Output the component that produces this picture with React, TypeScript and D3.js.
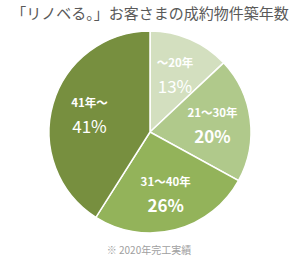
import React from 'react';
import * as d3 from 'd3';

// 成約物件築年数 (2020年完工実績)
const categories = ['～20年', '21～30年', '31～40年', '41年～'];
const shares = [13, 20, 26, 41];
const colors = ['#d3dfbf', '#b0c98b', '#93b35a', '#778f3f'];

const W = 300, H = 267;
const cx = 150, cy = 132, R = 101;
const font = '"Noto Sans CJK JP", "Noto Sans", sans-serif';

export default function App() {
  const pie = d3.pie<number>().sort(null).value(d => d);
  const arcs = pie(shares);
  const arcGen = d3.arc<d3.PieArcDatum<number>>().innerRadius(0).outerRadius(R);
  const labelArc = d3.arc<d3.PieArcDatum<number>>().innerRadius(63).outerRadius(63);

  return (
    <svg width={W} height={H} style={{ position: 'absolute', left: 0, top: 0, background: '#fff' }}>
      <text x={W / 2} y={19} textAnchor="middle" fontFamily={font} fontSize={15} fill="#595959">
        「リノベる。」お客さまの成約物件築年数
      </text>
      <g transform={`translate(${cx},${cy})`}>
        {arcs.map((a, i) => (
          <path key={i} d={arcGen(a) || ''} fill={colors[i]} stroke="#fff" strokeWidth={1.5} />
        ))}
        {arcs.map((a, i) => {
          const [x, y] = labelArc.centroid(a);
          return (
            <g key={'l' + i} transform={`translate(${x},${y + 2})`} fontFamily={font} fill="#fff" textAnchor="middle">
              <text y={-9} fontSize={11.5} fontWeight={700}>{categories[i]}</text>
              <text y={17} fontSize={17} fontWeight={i === 1 || i === 2 ? 700 : 400}>{shares[i]}%</text>
            </g>
          );
        })}
      </g>
      <text x={149} y={254} textAnchor="middle" fontFamily={font} fontSize={10} fill="#a0a0a0">
        ※ 2020年完工実績
      </text>
    </svg>
  );
}
